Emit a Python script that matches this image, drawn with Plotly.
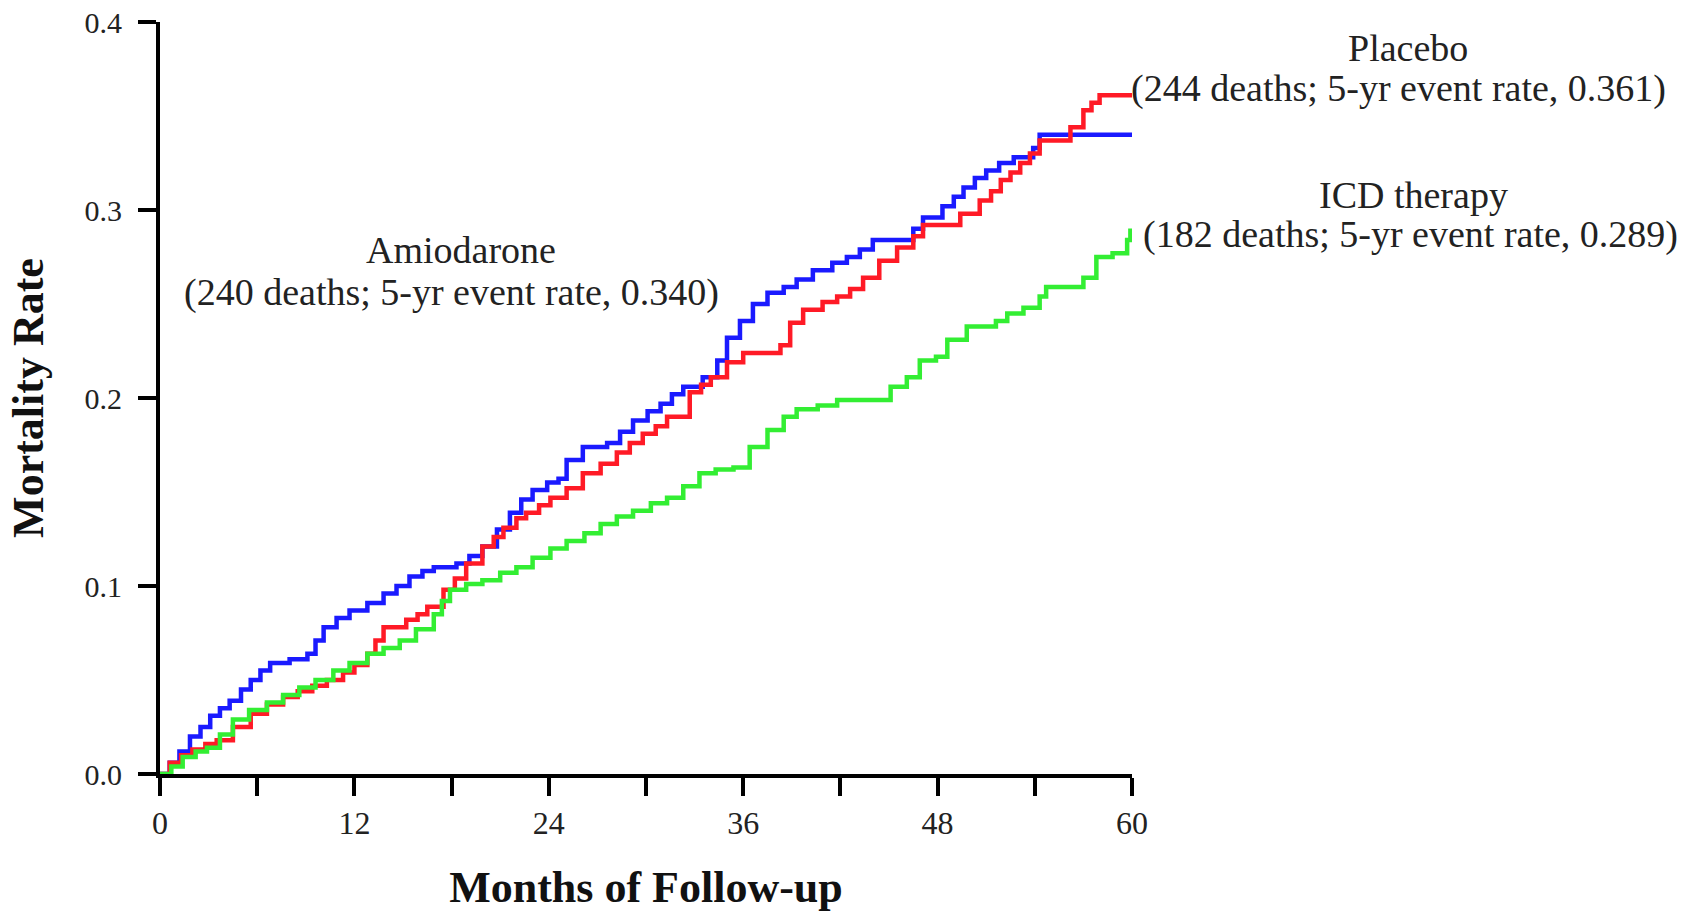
import plotly.graph_objects as go

# ---------------- data ----------------
amio_months = [0, 0.6, 1.2, 1.85, 2.5, 3.1, 3.7, 4.3, 5.0, 5.6, 6.2, 6.8, 8.0, 9.1, 9.6, 10.1,
               10.9, 11.7, 12.8, 13.8, 14.6, 15.4, 16.2, 16.9, 18.3, 19.1, 19.9, 20.8, 21.6,
               22.3, 23.0, 23.9, 24.6, 25.1, 26.1, 27.6, 28.4, 29.2, 30.1, 30.9, 31.6, 32.3,
               33.5, 34.4, 35.0, 35.8, 36.6, 37.5, 38.5, 39.3, 40.3, 41.5, 42.4, 43.2, 44.0,
               45.9, 46.5, 47.1, 48.3, 49.0, 49.6, 50.3, 51.0, 51.8, 52.7, 53.9, 54.3, 60]
amio_rate = [0, 0.006, 0.012, 0.020, 0.025, 0.031, 0.035, 0.039, 0.045, 0.050, 0.055, 0.059,
             0.061, 0.064, 0.071, 0.078, 0.083, 0.087, 0.091, 0.096, 0.100, 0.105, 0.108,
             0.110, 0.112, 0.116, 0.121, 0.130, 0.139, 0.146, 0.151, 0.155, 0.157, 0.167,
             0.174, 0.176, 0.182, 0.188, 0.193, 0.197, 0.202, 0.206, 0.211, 0.220, 0.232,
             0.241, 0.250, 0.256, 0.259, 0.263, 0.268, 0.272, 0.275, 0.279, 0.284, 0.284,
             0.290, 0.296, 0.302, 0.307, 0.312, 0.317, 0.321, 0.325, 0.328, 0.333, 0.340, 0.340]

placebo_months = [0, 0.6, 1.3, 2.0, 2.8, 3.5, 4.5, 5.6, 6.6, 7.6, 8.5, 9.4, 10.3, 11.3, 12.0,
                  12.8, 13.3, 13.8, 15.2, 15.9, 16.5, 17.5, 18.2, 18.9, 19.9, 20.6, 21.2, 22.0,
                  22.6, 23.4, 24.1, 25.1, 26.1, 27.2, 28.2, 29.0, 29.8, 30.6, 31.3, 32.7, 33.4,
                  34.0, 35.0, 36.0, 38.3, 38.9, 39.7, 40.9, 41.8, 42.6, 43.4, 44.4, 45.5, 46.5,
                  47.1, 48.1, 49.4, 50.6, 51.3, 51.9, 52.5, 53.1, 53.7, 54.3, 55.6, 56.2, 57.0,
                  57.5, 58.0, 60]
placebo_rate = [0, 0.006, 0.010, 0.013, 0.016, 0.018, 0.025, 0.032, 0.037, 0.041, 0.044, 0.047,
                0.050, 0.054, 0.058, 0.064, 0.071, 0.078, 0.082, 0.085, 0.089, 0.098, 0.104,
                0.112, 0.121, 0.126, 0.131, 0.136, 0.139, 0.143, 0.147, 0.152, 0.160, 0.165,
                0.171, 0.176, 0.181, 0.185, 0.190, 0.203, 0.207, 0.211, 0.219, 0.224, 0.228,
                0.240, 0.247, 0.251, 0.254, 0.258, 0.264, 0.273, 0.280, 0.286, 0.292, 0.292,
                0.298, 0.305, 0.310, 0.316, 0.320, 0.325, 0.330, 0.337, 0.337, 0.344, 0.353,
                0.357, 0.361, 0.361]

icd_months = [0, 0.7, 1.4, 2.2, 2.9, 3.7, 4.5, 5.5, 6.6, 7.6, 8.6, 9.6, 10.7, 11.7, 12.8, 13.8,
              14.8, 15.8, 16.9, 17.4, 17.9, 18.9, 19.9, 21.0, 22.0, 23.0, 24.1, 25.1, 26.2,
              27.2, 28.2, 29.2, 30.3, 31.3, 32.3, 33.3, 34.3, 35.4, 36.4, 37.5, 38.5, 39.3,
              40.6, 41.8, 45.1, 46.1, 46.9, 47.9, 48.6, 49.8, 51.6, 52.3, 53.3, 54.3, 54.7,
              56.0, 57.0, 57.8, 58.8, 59.7, 59.9, 60]
icd_rate = [0, 0.004, 0.009, 0.012, 0.014, 0.021, 0.029, 0.034, 0.038, 0.042, 0.046, 0.050,
            0.055, 0.059, 0.064, 0.067, 0.071, 0.077, 0.085, 0.092, 0.098, 0.101, 0.103, 0.107,
            0.110, 0.115, 0.120, 0.124, 0.128, 0.133, 0.137, 0.140, 0.144, 0.147, 0.153, 0.160,
            0.162, 0.163, 0.174, 0.183, 0.190, 0.194, 0.196, 0.199, 0.206, 0.211, 0.220, 0.222,
            0.231, 0.238, 0.241, 0.245, 0.248, 0.254, 0.259, 0.259, 0.264, 0.275, 0.277, 0.284,
            0.289, 0.289]

x_tick_vals = [0, 6, 12, 18, 24, 30, 36, 42, 48, 54, 60]
x_tick_text = ["0", "", "12", "", "24", "", "36", "", "48", "", "60"]
y_tick_vals = [0.0, 0.1, 0.2, 0.3, 0.4]
y_tick_text = ["0.0", "0.1", "0.2", "0.3", "0.4"]

series_names = ["Amiodarone", "Placebo", "ICD therapy"]
series_notes = ["(240 deaths; 5-yr event rate, 0.340)",
                "(244 deaths; 5-yr event rate, 0.361)",
                "(182 deaths; 5-yr event rate, 0.289)"]

assert len(amio_months) == len(amio_rate)
assert len(placebo_months) == len(placebo_rate)
assert len(icd_months) == len(icd_rate)

FONT = "Liberation Serif, Times New Roman, serif"
BLUE, RED, GREEN = "#1a1aff", "#ff1a26", "#33ee33"

fig = go.Figure()
for name, xs, ys, col in [
    (series_names[0], amio_months, amio_rate, BLUE),
    (series_names[1], placebo_months, placebo_rate, RED),
    (series_names[2], icd_months, icd_rate, GREEN),
]:
    fig.add_trace(go.Scatter(x=xs, y=ys, mode="lines", name=name,
                             line=dict(shape="hv", color=col, width=4.5)))

# label positions in paper coordinates: (title x, title y, note x, note y)
label_pos = {
    "Amiodarone": (0.3097, 0.697, 0.3004, 0.640),
    "Placebo": (1.2840, 0.966, 1.2743, 0.911),
    "ICD therapy": (1.2901, 0.770, 1.2870, 0.718),
}
for name, note in zip(series_names, series_notes):
    tx, ty, nx, ny = label_pos[name]
    for txt, ax, ay in [(name, tx, ty), (note, nx, ny)]:
        fig.add_annotation(x=ax, y=ay, xref="paper", yref="paper",
                           text=txt, showarrow=False,
                           xanchor="center", yanchor="middle",
                           font=dict(family=FONT, size=38, color="#222"))

fig.update_layout(
    width=1702, height=912,
    margin=dict(l=160, r=570, t=22, b=138),
    paper_bgcolor="white", plot_bgcolor="white",
    showlegend=False,
    font=dict(family=FONT, color="#222"),
)
fig.update_xaxes(
    range=[0, 60], tickmode="array", tickvals=x_tick_vals, ticktext=x_tick_text,
    showgrid=False, zeroline=False, showline=True, linecolor="black", linewidth=4,
    ticks="outside", ticklen=18, tickwidth=4, tickcolor="black",
    ticklabelstandoff=0, tickfont=dict(family=FONT, size=32, color="#222"),
    title=dict(text="<b>Months of Follow-up</b>", font=dict(family=FONT, size=44, color="#111"),
               standoff=35),
    automargin=False,
)
fig.update_yaxes(
    range=[0, 0.4], tickmode="array", tickvals=y_tick_vals, ticktext=y_tick_text,
    showgrid=False, zeroline=False, showline=True, linecolor="black", linewidth=4,
    ticks="outside", ticklen=18, tickwidth=4, tickcolor="black",
    ticklabelstandoff=10, tickfont=dict(family=FONT, size=30, color="#222"),
    title=dict(text="<b>Mortality Rate</b>", font=dict(family=FONT, size=44, color="#111"),
               standoff=28),
    automargin=False,
)

fig.write_html("out.html")
